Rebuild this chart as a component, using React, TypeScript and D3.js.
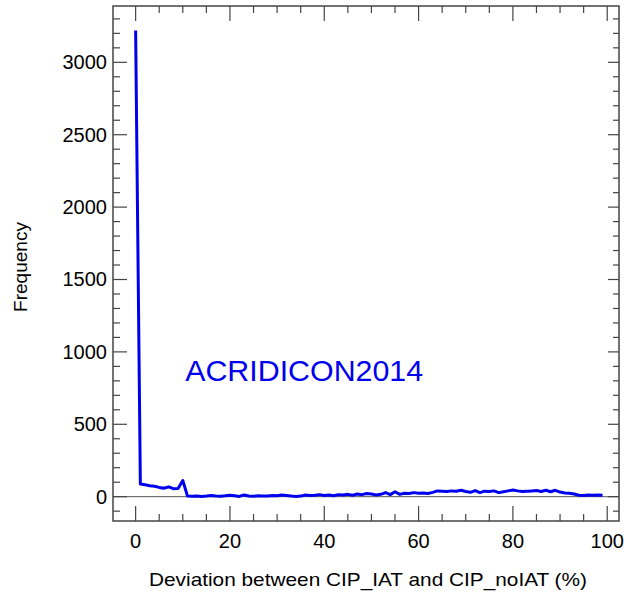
import React, { useEffect, useRef } from "react";
import * as d3 from "d3";

// deviation bins (%) and how many samples fall in each
const deviation = d3.range(0, 100);
const frequency = [
  3220, 88, 82, 76, 72, 64, 58, 68, 55, 56,
  112, 4, 3, 5, 2, 4, 8, 5, 3, 6,
  10, 6, 2, 12, 5, 3, 6, 4, 5, 8,
  6, 12, 8, 4, 2, 4, 12, 8, 10, 14,
  8, 12, 6, 14, 12, 16, 10, 18, 14, 22,
  18, 12, 16, 28, 14, 34, 16, 24, 22, 28,
  24, 26, 22, 30, 40, 38, 36, 40, 38, 44,
  36, 30, 42, 28, 38, 36, 40, 28, 34, 40,
  46, 40, 36, 38, 40, 42, 36, 44, 34, 44,
  32, 26, 24, 18, 10, 8, 12, 10, 12, 10,
];
const xTicks = [0, 20, 40, 60, 80, 100];
const yTicks = [0, 500, 1000, 1500, 2000, 2500, 3000];
const xTitle = "Deviation between CIP_IAT and CIP_noIAT (%)";
const yTitle = "Frequency";
const label = "ACRIDICON2014";

export default function App() {
  const ref = useRef<SVGSVGElement>(null);

  useEffect(() => {
    const W = 624, H = 593;
    const left = 113, right = 619, top = 6, bottom = 521;
    const svg = d3.select(ref.current).attr("width", W).attr("height", H);
    svg.selectAll("*").remove();

    const x = d3.scaleLinear().domain([-4.8, 102.5]).range([left, right]);
    const y = d3.scaleLinear().domain([-168, 3389]).range([bottom, top]);
    const frameColor = "#444";
    const font = "'Liberation Sans', Arial, sans-serif";

    // zero line
    svg.append("line")
      .attr("x1", left).attr("x2", right)
      .attr("y1", y(0)).attr("y2", y(0))
      .attr("stroke", "#555").attr("stroke-width", 1);

    // ticks pointing inward on all sides
    const xMinor = d3.range(0, 101, 5);
    const yMinor = d3.range(-100, 3301, 100);
    const g = svg.append("g").attr("stroke", frameColor).attr("stroke-width", 1.2);
    xMinor.forEach(v => {
      const major = v % 20 === 0;
      g.append("line").attr("x1", x(v)).attr("x2", x(v))
        .attr("y1", bottom).attr("y2", bottom - (major ? 15 : 7));
      g.append("line").attr("x1", x(v)).attr("x2", x(v))
        .attr("y1", top).attr("y2", top + (major ? 15 : 7));
    });
    yMinor.forEach(v => {
      const major = v % 500 === 0;
      g.append("line").attr("y1", y(v)).attr("y2", y(v))
        .attr("x1", left).attr("x2", left + (major ? 14 : 7));
      g.append("line").attr("y1", y(v)).attr("y2", y(v))
        .attr("x1", right).attr("x2", right - (major ? 11 : 6));
    });

    // frame
    svg.append("rect")
      .attr("x", left).attr("y", top)
      .attr("width", right - left).attr("height", bottom - top)
      .attr("fill", "none").attr("stroke", frameColor).attr("stroke-width", 1.5);

    // tick labels
    svg.selectAll(".xl").data(xTicks).join("text")
      .attr("class", "xl")
      .attr("x", d => x(d)).attr("y", 548)
      .attr("text-anchor", "middle")
      .style("font-family", font).style("font-size", "20px")
      .text(d => d);

    svg.selectAll(".yl").data(yTicks).join("text")
      .attr("class", "yl")
      .attr("x", 107).attr("y", d => y(d) + 7)
      .attr("text-anchor", "end")
      .style("font-family", font).style("font-size", "20px")
      .text(d => d);

    // axis titles
    svg.append("text")
      .attr("x", 149).attr("y", 586)
      .attr("textLength", 438).attr("lengthAdjust", "spacingAndGlyphs")
      .style("font-family", font).style("font-size", "19px")
      .text(xTitle);

    svg.append("text")
      .attr("transform", "translate(27,312) rotate(-90)")
      .attr("textLength", 90).attr("lengthAdjust", "spacingAndGlyphs")
      .style("font-family", font).style("font-size", "19px")
      .text(yTitle);

    // data line
    const line = d3.line<number>()
      .x((d, i) => x(deviation[i]))
      .y(d => y(d));
    svg.append("path")
      .datum(frequency)
      .attr("d", line)
      .attr("fill", "none")
      .attr("stroke", "#0000ee")
      .attr("stroke-width", 3)
      .attr("stroke-linejoin", "round");

    svg.append("text")
      .attr("x", x(10.5)).attr("y", y(800))
      .attr("textLength", 238).attr("lengthAdjust", "spacingAndGlyphs")
      .attr("fill", "#0000ee")
      .style("font-family", font).style("font-size", "29px")
      .text(label);
  }, []);

  return <svg ref={ref} style={{ position: "absolute", left: 0, top: 0 }} />;
}
